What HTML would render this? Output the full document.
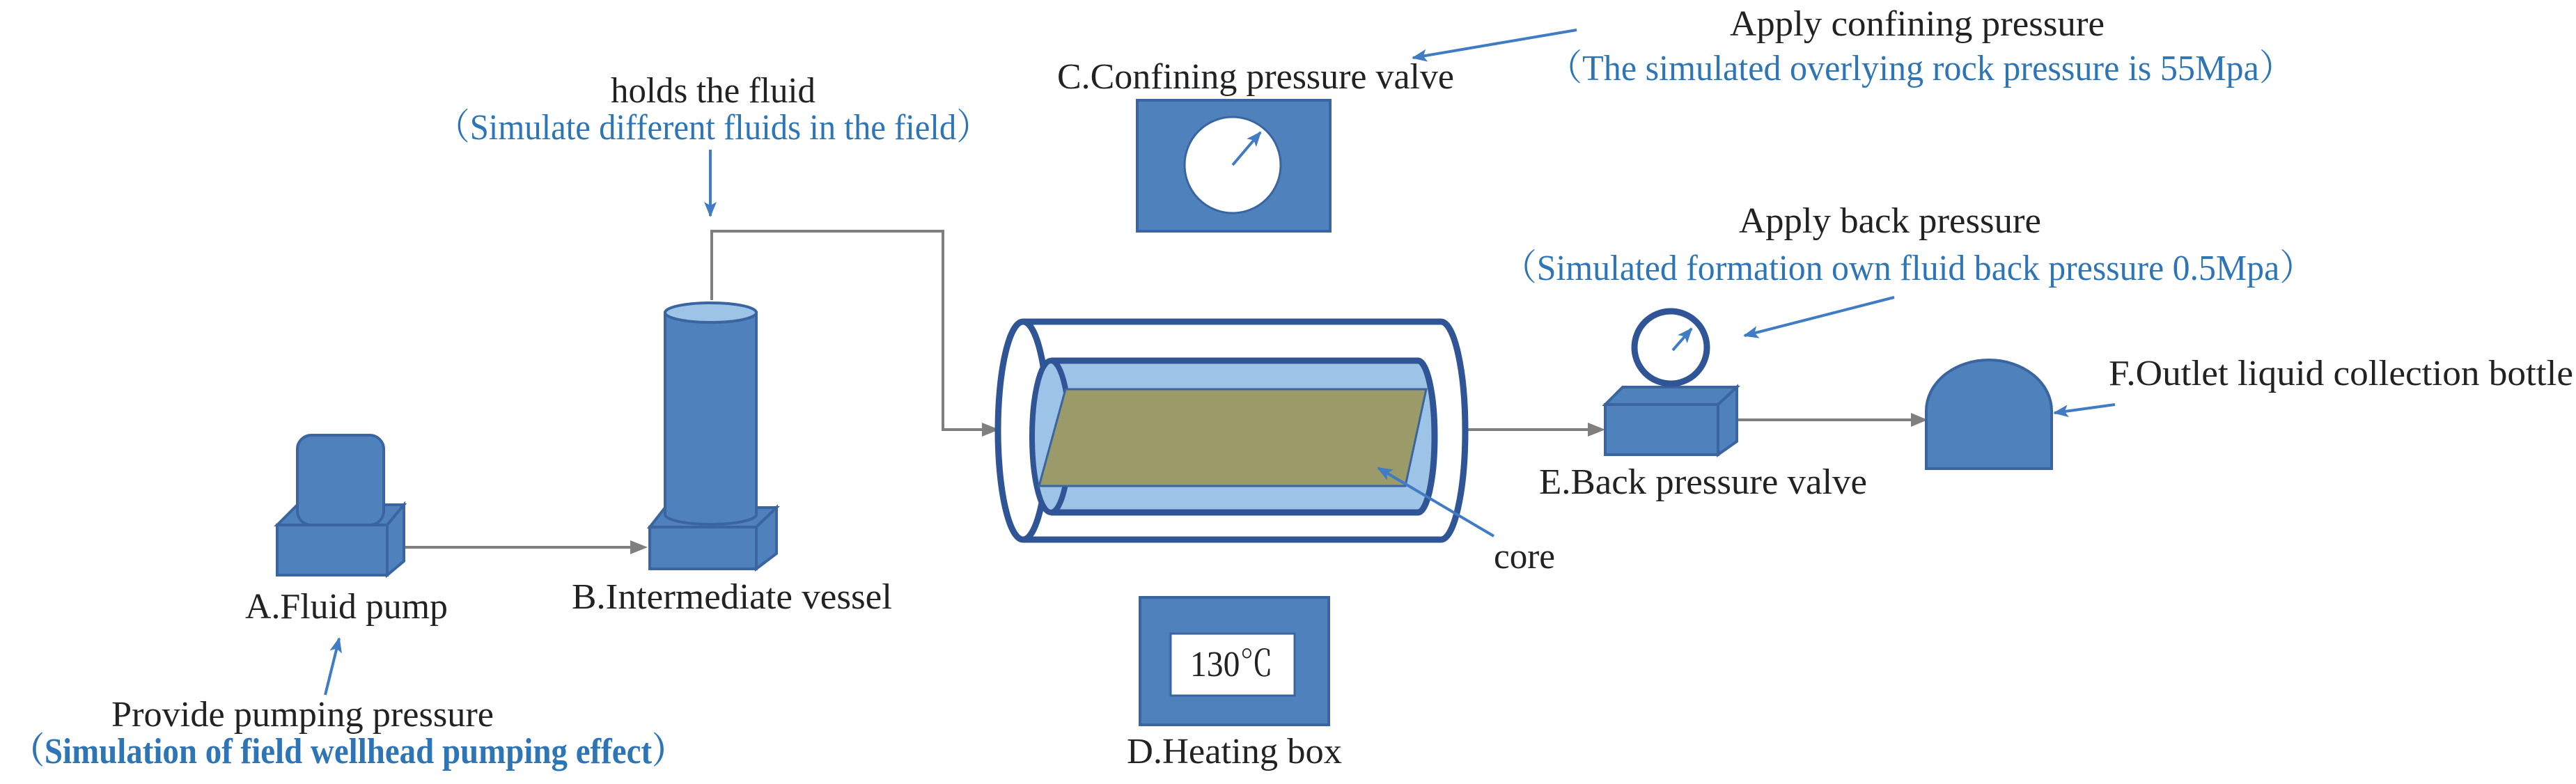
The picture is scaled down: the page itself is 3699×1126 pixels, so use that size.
<!DOCTYPE html>
<html><head><meta charset="utf-8"><style>
html,body{margin:0;padding:0;background:#fff;}
svg{display:block;}
text{font-family:"Liberation Serif","Noto Serif CJK SC",serif;font-size:52px;fill:#222;}
.b{fill:#2e75b6;}
</style></head><body>
<svg width="3699" height="1126" viewBox="0 0 3699 1126" xmlns="http://www.w3.org/2000/svg">
<defs>
<marker id="ab" markerWidth="22" markerHeight="18" refX="20" refY="9" orient="auto" markerUnits="userSpaceOnUse"><path d="M0,0 L22,9 L0,18 L5,9 z" fill="#3f7cc4"/></marker>
</defs>
<g stroke="#7f7f7f" stroke-width="4" fill="none">
<path d="M580,786 L925,786"/>
<path d="M1022,431 L1022,332 L1354,332 L1354,617 L1430,617"/>
<path d="M2105,617 L2300,617"/>
<path d="M2494,603 L2762,603"/>
</g>
<g fill="#7f7f7f"><path d="M905,776 L930,786 L905,796 z"/><path d="M1410,607 L1435,617 L1410,627 z"/><path d="M2280,607 L2305,617 L2280,627 z"/><path d="M2744,593 L2768,603 L2744,613 z"/></g>
<g fill="#4f81bd" stroke="#3a65a0" stroke-width="4">
<rect x="398" y="754" width="158" height="72"/>
<polygon points="398,754 427,725 580,725 556,754"/>
<polygon points="556,754 580,725 580,806 556,826"/>
<rect x="427" y="625" width="124" height="129" rx="20"/>
<rect x="933" y="757" width="153" height="60"/>
<polygon points="933,757 955,729 1115,729 1086,757"/>
<polygon points="1086,757 1115,729 1115,795 1086,817"/>
<path d="M955,449 L955,739 A65.5,14 0 0 0 1086,739 L1086,449 z"/>
<ellipse cx="1020.5" cy="449" rx="65.5" ry="14" fill="#9dc3e6"/>
<rect x="1633" y="144" width="277" height="188"/>
<rect x="1637" y="858" width="271" height="183"/>
<rect x="2305" y="581" width="162" height="72"/>
<polygon points="2305,581 2330,556 2494,556 2467,581"/>
<polygon points="2467,581 2494,556 2494,634 2467,653"/>
<path d="M2766,673 L2766,590 A90,73 0 0 1 2946,590 L2946,673 z"/>
</g>
<circle cx="1770" cy="237" r="69" fill="#fff" stroke="#3a65a0" stroke-width="3"/>
<line x1="1770" y1="237" x2="1810" y2="190" stroke="#3f7cc4" stroke-width="4" marker-end="url(#ab)"/>
<rect x="1681" y="910" width="178" height="89" fill="#fff" stroke="#3a65a0" stroke-width="3"/>
<circle cx="2399" cy="499" r="52" fill="#fff" stroke="#2f5597" stroke-width="9"/>
<line x1="2402" y1="503" x2="2429" y2="472" stroke="#3f7cc4" stroke-width="4" marker-end="url(#ab)"/>
<path d="M1469,462 L2069,462 A35,156.5 0 0 1 2069,775 L1469,775" fill="#fff" stroke="#2f5597" stroke-width="9"/>
<ellipse cx="1469" cy="618.5" rx="36" ry="156.5" fill="#fff" stroke="#2f5597" stroke-width="9"/>
<path d="M1509,518 L2036,518 A24,109 0 0 1 2036,736 L1509,736" fill="#9dc3e6" stroke="#2f5597" stroke-width="9"/>
<ellipse cx="1509" cy="627" rx="27" ry="109" fill="#9dc3e6" stroke="#2f5597" stroke-width="8"/>
<polygon points="1530,559 1492,698 1530,698" fill="#c9c37a"/>
<polygon points="1530,559 2048,559 2018,698 1492,698" fill="#9b9b69" stroke="#3a65a0" stroke-width="3"/>
<g stroke="#3f7cc4" stroke-width="4" fill="none">
<line x1="1020" y1="215" x2="1020" y2="310" marker-end="url(#ab)"/>
<line x1="467" y1="998" x2="487" y2="917" marker-end="url(#ab)"/>
<line x1="2264" y1="43" x2="2029" y2="83" marker-end="url(#ab)"/>
<line x1="2145" y1="770" x2="1979" y2="672" marker-end="url(#ab)"/>
<line x1="2720" y1="427" x2="2505" y2="482" marker-end="url(#ab)"/>
<line x1="3037" y1="581" x2="2950" y2="593" marker-end="url(#ab)"/>
</g>
<text x="877" y="147" textLength="294" lengthAdjust="spacingAndGlyphs">holds the fluid</text>
<text class="b" x="626" y="200" textLength="796" lengthAdjust="spacingAndGlyphs">（Simulate different fluids in the field）</text>
<text x="352" y="888" textLength="291" lengthAdjust="spacingAndGlyphs">A.Fluid pump</text>
<text x="821" y="874" textLength="460" lengthAdjust="spacingAndGlyphs">B.Intermediate vessel</text>
<text x="160" y="1043" textLength="549" lengthAdjust="spacingAndGlyphs">Provide pumping pressure</text>
<text class="b" x="17" y="1096" font-weight="bold" textLength="966" lengthAdjust="spacingAndGlyphs">（Simulation of field wellhead pumping effect）</text>
<text x="1518" y="127" textLength="570" lengthAdjust="spacingAndGlyphs">C.Confining pressure valve</text>
<text x="2484" y="51" textLength="538" lengthAdjust="spacingAndGlyphs">Apply confining pressure</text>
<text class="b" x="2222" y="115" textLength="1072" lengthAdjust="spacingAndGlyphs">（The simulated overlying rock pressure is 55Mpa）</text>
<text x="2497" y="334" textLength="434" lengthAdjust="spacingAndGlyphs">Apply back pressure</text>
<text class="b" x="2157" y="402" textLength="1166" lengthAdjust="spacingAndGlyphs">（Simulated formation own fluid back pressure 0.5Mpa）</text>
<text x="2210" y="709" textLength="471" lengthAdjust="spacingAndGlyphs">E.Back pressure valve</text>
<text x="3028" y="553" textLength="667" lengthAdjust="spacingAndGlyphs">F.Outlet liquid collection bottle</text>
<text x="2145" y="816" textLength="88" lengthAdjust="spacingAndGlyphs">core</text>
<text x="1709" y="971" textLength="119" lengthAdjust="spacingAndGlyphs">130℃</text>
<text x="1618" y="1096" textLength="309" lengthAdjust="spacingAndGlyphs">D.Heating box</text>
</svg>
</body></html>
